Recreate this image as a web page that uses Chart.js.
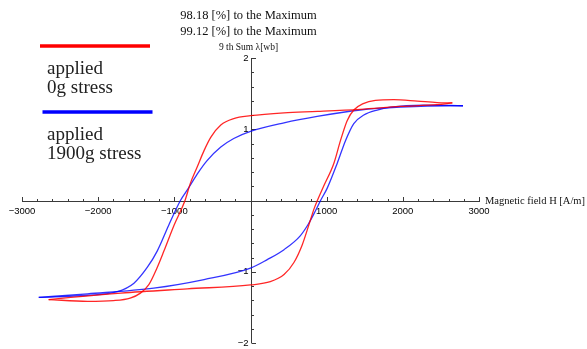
<!DOCTYPE html>
<html>
<head>
<meta charset="utf-8">
<script src="https://cdn.jsdelivr.net/npm/chart.js@4.4.0/dist/chart.umd.min.js"></script>
<style>
  html, body { margin: 0; padding: 0; background: #ffffff; }
  #wrap { width: 587px; height: 349px; }
</style>
</head>
<body>
<div id="wrap"><canvas id="c" width="587" height="349"></canvas></div>
<script>
// Hysteresis loop, no stress (H in A/m, B as summed flux)
// descending branch (field swept from +H to -H)
const redDownH = [2650, 2450, 1970, 1440, 880, 440, 0, -220, -390, -520, -610, -700, -790, -860, -1005, -1137, -1225, -1335, -1445, -1580, -1800, -2140, -2650];
const redDownB = [1.37, 1.345, 1.32, 1.28, 1.25, 1.23, 1.19, 1.15, 1.06, 0.89, 0.70, 0.47, 0.24, 0.0, -0.35, -0.71, -0.94, -1.18, -1.30, -1.37, -1.405, -1.415, -1.39];
// ascending branch (field swept from -H to +H)
const redUpH = [-2650, -2360, -1700, -830, 0, 260, 440, 570, 680, 770, 840, 960, 1094, 1181, 1269, 1356, 1480, 1640, 1880, 2190, 2450, 2650];
const redUpB = [-1.39, -1.36, -1.30, -1.24, -1.185, -1.14, -1.04, -0.87, -0.62, -0.33, -0.10, 0.20, 0.52, 0.84, 1.12, 1.27, 1.36, 1.405, 1.415, 1.395, 1.375, 1.37];

// Hysteresis loop, 1900 g applied stress
const blueDownH = [2790, 2620, 1970, 1440, 875, 440, 0, -220, -390, -570, -700, -810, -920, -1075, -1225, -1356, -1530, -1750, -2140, -2780];
const blueDownB = [1.33, 1.33, 1.31, 1.27, 1.18, 1.09, 0.97, 0.87, 0.75, 0.56, 0.37, 0.18, 0.0, -0.35, -0.71, -0.94, -1.16, -1.28, -1.33, -1.36];
const blueUpH = [-2780, -2140, -1270, -610, 0, 220, 440, 650, 760, 850, 920, 1006, 1138, 1247, 1356, 1488, 1663, 1837, 2275, 2790];
const blueUpB = [-1.36, -1.31, -1.23, -1.11, -0.95, -0.83, -0.69, -0.50, -0.33, -0.15, 0.0, 0.17, 0.52, 0.84, 1.08, 1.20, 1.27, 1.31, 1.34, 1.33];

// Axis ticks
const xTickLabels = [-3000, -2000, -1000, 1000, 2000, 3000];
const yTickLabels = [-2, -1, 1, 2];
const xRange = [-3000, 3000];
const yRange = [-2, 2];

// Header and legend text
const headerLines = ['98.18 [%] to the Maximum', '99.12 [%] to the Maximum'];
const yAxisTitle = '9 th Sum \u03bb[wb]';
const xAxisTitle = 'Magnetic field H [A/m]';
const legendItems = [
  { color: '#ff0000', lines: ['applied', '0g stress'] },
  { color: '#0000ff', lines: ['applied', '1900g stress'] }
];

const toPoints = (hs, bs) => hs.map((h, i) => ({ x: h, y: bs[i] }));
const fmt = v => (v < 0 ? '\u2212' + Math.abs(v) : String(v));

const axesPlugin = {
  id: 'crossAxes',
  beforeDatasetsDraw(chart) {
    const { ctx, scales: { x, y } } = chart;
    const x0 = Math.round(x.getPixelForValue(0)) + 0.5;
    const y0 = Math.round(y.getPixelForValue(0)) + 0.5;
    ctx.save();
    ctx.strokeStyle = '#3a3a3a';
    ctx.lineWidth = 1;
    ctx.beginPath();
    ctx.moveTo(x.getPixelForValue(xRange[0]), y0);
    ctx.lineTo(x.getPixelForValue(xRange[1]) + 1, y0);
    ctx.moveTo(x0, y.getPixelForValue(yRange[0]));
    ctx.lineTo(x0, y.getPixelForValue(yRange[1]));
    // x ticks: minor every 200, major every 1000, pointing up
    for (let v = xRange[0]; v <= xRange[1]; v += 200) {
      if (v === 0) continue;
      const px = Math.round(x.getPixelForValue(v)) + 0.5;
      const len = v % 1000 === 0 ? 4.5 : 2.5;
      ctx.moveTo(px, y0);
      ctx.lineTo(px, y0 - len);
    }
    // y ticks: minor every 0.2, major every 1, pointing right
    for (let k = -10; k <= 10; k++) {
      if (k === 0) continue;
      const v = k / 5;
      const py = Math.round(y.getPixelForValue(v)) + 0.5;
      const len = k % 5 === 0 ? 4.5 : 2.5;
      ctx.moveTo(x0, py);
      ctx.lineTo(x0 + len, py);
    }
    ctx.stroke();

    ctx.fillStyle = '#000';
    ctx.font = '9.5px "Liberation Sans", Arial, sans-serif';
    ctx.textAlign = 'center';
    ctx.textBaseline = 'top';
    xTickLabels.forEach(v => ctx.fillText(fmt(v), x.getPixelForValue(v), y0 + 5));
    ctx.textAlign = 'right';
    ctx.textBaseline = 'middle';
    yTickLabels.forEach(v => ctx.fillText(fmt(v), x0 - 3, y.getPixelForValue(v)));
    ctx.restore();
  },
  afterDraw(chart) {
    const { ctx, scales: { x, y } } = chart;
    const x0 = x.getPixelForValue(0);
    const y0 = y.getPixelForValue(0);
    ctx.save();
    ctx.fillStyle = '#111';
    ctx.textAlign = 'center';
    ctx.textBaseline = 'middle';
    ctx.font = '12.5px "Liberation Serif", "Times New Roman", serif';
    ctx.fillText(headerLines[0], x0 - 2, 16);
    ctx.fillText(headerLines[1], x0 - 2, 32);
    ctx.font = '9.5px "Liberation Serif", "Times New Roman", serif';
    ctx.fillText(yAxisTitle, x0 - 2, 47);
    ctx.textAlign = 'left';
    ctx.font = '10.5px "Liberation Serif", "Times New Roman", serif';
    ctx.fillText(xAxisTitle, x.getPixelForValue(xRange[1]) + 6, y0 + 1);

    // legend
    const rows = [46, 112];
    legendItems.forEach((item, i) => {
      const ly = rows[i];
      ctx.strokeStyle = item.color;
      ctx.lineWidth = 3.5;
      ctx.beginPath();
      ctx.moveTo(40 + i * 2.5, ly);
      ctx.lineTo(150 + i * 2.5, ly);
      ctx.stroke();
      ctx.font = '19px "Liberation Serif", "Times New Roman", serif';
      ctx.fillStyle = '#222';
      ctx.fillText(item.lines[0], 47, ly + 23);
      ctx.fillText(item.lines[1], 47, ly + 42);
    });
    ctx.restore();
  }
};

const branch = (hs, bs, color) => ({
  data: toPoints(hs, bs),
  showLine: true,
  borderColor: color,
  borderWidth: 1.3,
  pointRadius: 0,
  cubicInterpolationMode: 'monotone',
  fill: false
});

new Chart(document.getElementById('c'), {
  type: 'scatter',
  data: {
    datasets: [
      branch(redDownH, redDownB, 'rgba(255,0,0,0.85)'),
      branch(redUpH, redUpB, 'rgba(255,0,0,0.85)'),
      branch(blueDownH, blueDownB, 'rgba(0,0,255,0.8)'),
      branch(blueUpH, blueUpB, 'rgba(0,0,255,0.8)')
    ]
  },
  options: {
    responsive: false,
    animation: false,
    layout: { padding: { left: 22, right: 108, top: 58, bottom: 6 } },
    plugins: { legend: { display: false }, tooltip: { enabled: false } },
    scales: {
      x: { type: 'linear', min: xRange[0], max: xRange[1], display: false },
      y: { type: 'linear', min: yRange[0], max: yRange[1], display: false }
    }
  },
  plugins: [axesPlugin]
});
</script>
</body>
</html>
